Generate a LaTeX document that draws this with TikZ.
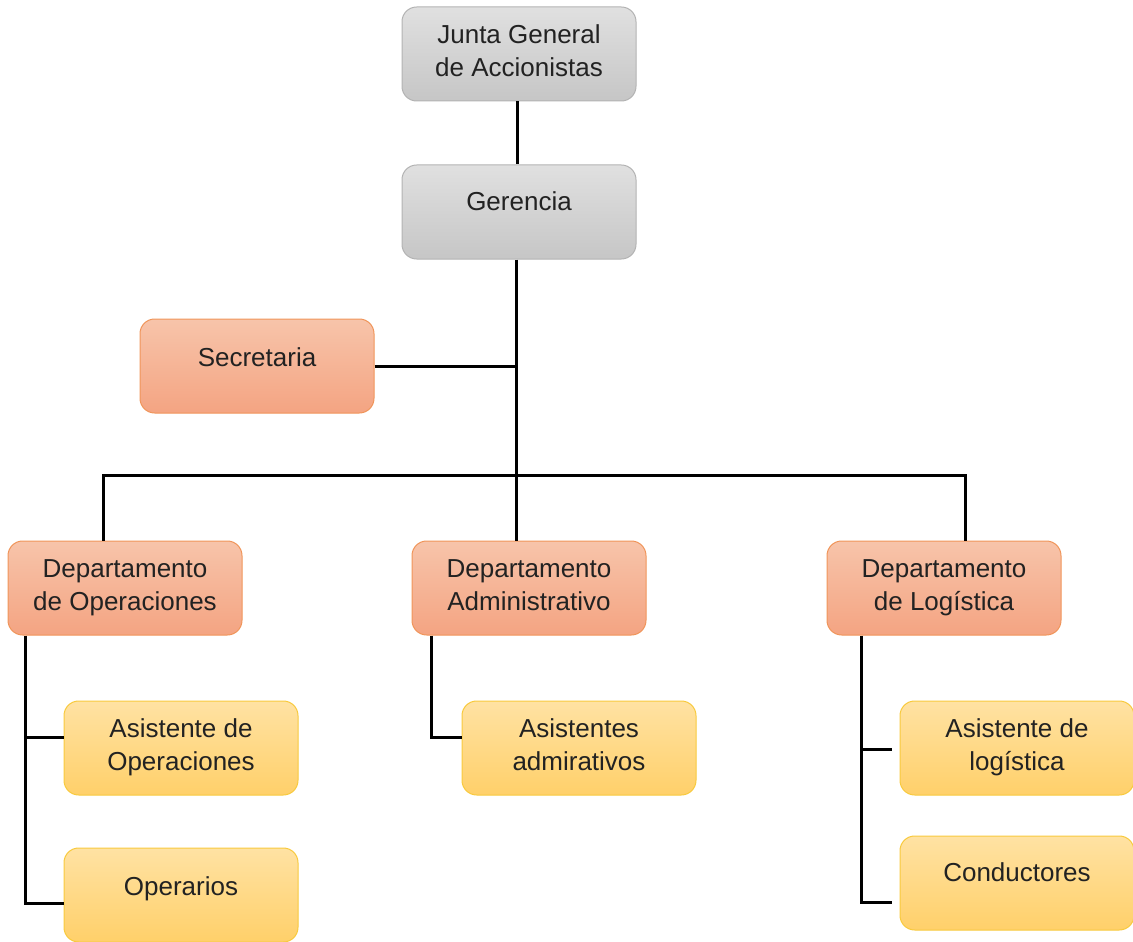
\documentclass[tikz,border=0pt]{standalone}
\usepackage{fontspec}
\setmainfont{Liberation Sans}
\usetikzlibrary{calc}
\definecolor{grayT}{HTML}{E0E0E0}
\definecolor{grayB}{HTML}{C6C6C6}
\definecolor{grayD}{HTML}{B3B3B3}
\definecolor{orT}{HTML}{F7C4AA}
\definecolor{orB}{HTML}{F4A482}
\definecolor{orD}{HTML}{F0955A}
\definecolor{yeT}{HTML}{FFE2A3}
\definecolor{yeB}{HTML}{FFD06A}
\definecolor{yeD}{HTML}{F8CA3E}
\definecolor{txt}{HTML}{222222}
\tikzset{
  box/.style={rounded corners=11pt, minimum width=175.5pt, minimum height=70.5pt, line width=0.75pt, inner sep=0pt},
  graybox/.style={box, draw=grayD, top color=grayT, bottom color=grayB},
  orbox/.style={box, draw=orD, top color=orT, bottom color=orB},
  yebox/.style={box, draw=yeD, top color=yeT, bottom color=yeB},
  lbl/.style={align=center, font=\fontsize{19.5}{24.75}\selectfont, text=txt, inner sep=0pt},
  wire/.style={line width=2.25pt, draw=black}
}
\begin{document}
\begin{tikzpicture}[x=0.75pt,y=-0.75pt]
\useasboundingbox (0,0) rectangle (1133,942);
% boxes
\node[graybox] (junta) at (519,54) {};
\node[graybox] (ger) at (519,212) {};
\node[orbox] (sec) at (257,366) {};
\node[orbox] (dop) at (125,588) {};
\node[orbox] (dad) at (529,588) {};
\node[orbox] (dlo) at (944,588) {};
\node[yebox] (aop) at (181,748) {};
\node[yebox] (opr) at (181,895) {};
\node[yebox] (aad) at (579,748) {};
\node[yebox] (alo) at (1017,748) {};
\node[yebox] (con) at (1017,883) {};
% labels
\node[lbl] (juntaT) at ($(junta)+(0,-3)$) {Junta General\\de Accionistas};
\node[lbl] (gerT) at ($(ger)+(0,-11)$) {Gerencia};
\node[lbl] (secT) at ($(sec)+(0,-9)$) {Secretaria};
\node[lbl] (dopT) at ($(dop)+(0,0)$) {Departamento\\de Operaciones};
\node[lbl] (dadT) at ($(dad)+(0,-3)$) {Departamento\\Administrativo};
\node[lbl] (dloT) at ($(dlo)+(0,0)$) {Departamento\\de Logística};
\node[lbl] (aopT) at ($(aop)+(0,-1)$) {Asistente de\\Operaciones};
\node[lbl] (oprT) at ($(opr)+(0,-6)$) {Operarios};
\node[lbl] (aadT) at ($(aad)+(0,-3)$) {Asistentes\\admirativos};
\node[lbl] (aloT) at ($(alo)+(0,-1)$) {Asistente de\\logística};
\node[lbl] (conT) at ($(con)+(0,-11)$) {Conductores};
% connectors
\coordinate (hub) at (516,475);
\draw[wire] ($(junta.south)+(-2,0)$) -- ($(ger.north)+(-2,0)$);
\draw[wire] ($(ger.south)+(-3,0)$) -- ($(dad.north)+(-13,0)$);
\draw[wire] (sec.east) -- (sec.east -| hub);
\draw[wire] ($(dop.north)+(-22,0)$) |- (hub) -| ($(dlo.north)+(21,0)$);
% operaciones
\draw[wire] ($(dop.south west)+(18,0)$) |- ($(opr.west)+(0,8)$);
\draw[wire] ($(aop.west)+(-38,-11)$) -- ($(aop.west)+(0,-11)$);
% administrativo
\draw[wire] ($(dad.south west)+(20,0)$) |- ($(aad.west)+(0,-11)$);
% logistica
\draw[wire] ($(dlo.south west)+(35,0)$) |- ($(con.west)+(-8,19)$);
\draw[wire] ($(alo.west)+(-38,1)$) -- ($(alo.west)+(-8,1)$);
\end{tikzpicture}
\end{document}
